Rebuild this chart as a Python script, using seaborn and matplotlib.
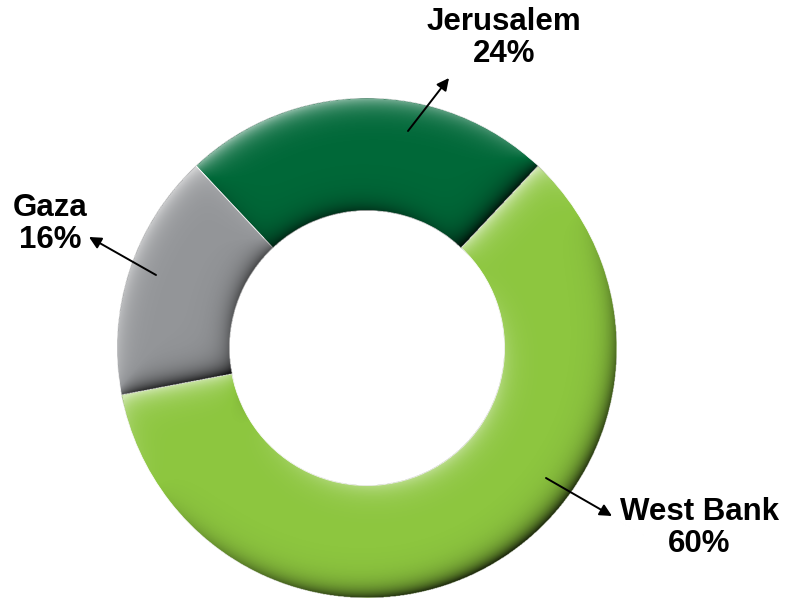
import numpy as np
import matplotlib
matplotlib.use("Agg")
import matplotlib.pyplot as plt
import seaborn as sns

# data
regions = ["Jerusalem", "Gaza", "West Bank"]
shares = [24, 16, 60]
colors = ["#006838", "#939598", "#8dc63f"]

sns.set_theme(style="white")
plt.rcParams["font.family"] = ["Liberation Sans", "DejaVu Sans"]

W, H = 787, 598
CX, CY, R = 367, 348, 250          # donut centre / radius in pixels
HOLE = 0.55
START = 90 - shares[0] * 3.6 / 2    # Jerusalem centred on top


def px(x, y):
    """pixel (from top-left) -> data coords"""
    return (x - CX) / R, (CY - y) / R


fig = plt.figure(figsize=(W / 100, H / 100), dpi=100)
ax = fig.add_axes([0, 0, 1, 1])
ax.set_axis_off()

wedges, _ = ax.pie(shares, colors=colors, startangle=START, counterclock=True,
                   radius=1.0, wedgeprops=dict(width=1 - HOLE, edgecolor="white", linewidth=0.6))
ax.set_xlim(-CX / R, (W - CX) / R)
ax.set_ylim(-(H - CY) / R, CY / R)
ax.set_aspect("auto")

# bevel shading (light from upper left)
n = 900
g = np.linspace(-1, 1, n)
X, Y = np.meshgrid(g, g)
r = np.hypot(X, Y)
th = np.degrees(np.arctan2(Y, X)) % 360
L = np.array([-0.55, 0.85])
L = L / np.linalg.norm(L)
w = 0.04
shade = np.zeros_like(X)
ring = (r > HOLE) & (r <= 1.0)
thr = np.radians(th)
for wd in wedges:
    t1, t2 = wd.theta1, wd.theta2
    span = t2 - t1
    rel = (th - t1) % 360
    m = ring & (rel < span)
    s = np.zeros_like(X)
    # outer rim
    s += (np.cos(thr) * L[0] + np.sin(thr) * L[1]) * np.exp(-(1 - r) / w)
    # inner rim (softer)
    s += -0.7 * (np.cos(thr) * L[0] + np.sin(thr) * L[1]) * np.exp(-(r - HOLE) / w)
    # start side
    a = np.radians(t1 - 90)
    d = r * np.sin(np.radians(np.clip(rel, 0, 90)))
    s += (np.cos(a) * L[0] + np.sin(a) * L[1]) * np.exp(-d / w)
    # end side
    a = np.radians(t2 + 90)
    d = r * np.sin(np.radians(np.clip(span - rel, 0, 90)))
    s += (np.cos(a) * L[0] + np.sin(a) * L[1]) * np.exp(-d / w)
    shade[m] = s[m]
shade = np.clip(shade, -1, 1)
img = np.zeros((n, n, 4))
pos = shade > 0
img[pos, :3] = 1.0
img[pos, 3] = shade[pos] * 0.6
img[~pos, 3] = -shade[~pos] * 0.85
img[~ring, 3] = 0
ax.imshow(img, extent=[-1, 1, -1, 1], origin="lower", interpolation="bilinear", zorder=3)
ax.set_xlim(-CX / R, (W - CX) / R)
ax.set_ylim(-(H - CY) / R, CY / R)
ax.set_aspect("auto")

# labels + arrows
label_pos = {"Jerusalem": (504, 38), "Gaza": (50, 224), "West Bank": (699, 528)}
arrows = {"Jerusalem": ((408, 131), (449, 78)),
          "Gaza": ((156, 275), (89, 237)),
          "West Bank": ((546, 478), (612, 516))}
for name, val in zip(regions, shares):
    tx, ty = px(*label_pos[name])
    ax.text(tx, ty, f"{name}\n{val}%", ha="center", va="center", fontsize=22.5,
            fontweight="bold", linespacing=1.05, color="black", zorder=5)
    tail, head = arrows[name]
    ax.annotate("", xy=px(*head), xytext=px(*tail),
                arrowprops=dict(arrowstyle="-|>", color="black", lw=1.4,
                                mutation_scale=18, shrinkA=0, shrinkB=0), zorder=6)

fig.savefig("out.png", dpi=100, facecolor="white")
